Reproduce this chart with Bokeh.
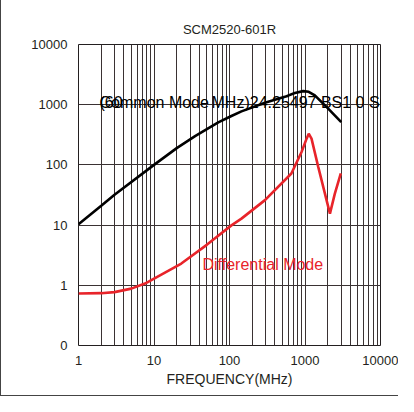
from bokeh.plotting import figure
from bokeh.models import Range1d, FixedTicker, CustomJSTickFormatter, Label
from bokeh.embed import file_html
from bokeh.resources import INLINE

title_text = "SCM2520-601R"
x_label = "FREQUENCY(MHz)"

# Common mode impedance (black)
cm_freq = [1, 2, 3, 10, 20, 35, 71, 106, 144, 295, 540, 733, 946, 1120, 1350, 2000, 3020]
cm_imp = [10.3, 21, 32, 100, 190, 300, 510, 650, 775, 1080, 1350, 1560, 1680, 1640, 1430, 876, 515]

# Differential mode impedance (red)
dm_freq = [1, 2, 3, 5, 7.6, 23, 50, 106, 144, 295, 660, 900, 1050, 1120, 1220, 1500, 2140, 2480, 2980]
dm_imp = [0.73, 0.74, 0.77, 0.88, 1.07, 2.3, 4.7, 9.9, 12.8, 26, 72, 164, 273, 330, 273, 92, 15.5, 33, 72]

x_ticks = [1, 10, 100, 1000, 10000]
y_ticks = [0.1, 1, 10, 100, 1000, 10000]
x_grid = [d * k for d in [1, 10, 100, 1000] for k in range(1, 10)] + [10000]

cm_text = "Common Mode"
cm_text_tail = "MHz)24.25497 BS1 0 SCM2520-601R"
cm_text_overlap = "(60"
dm_text = "Differential Mode"

FONT = "Liberation Sans"
TXT = "#231f20"
RED = "#e8242a"

p = figure(width=398, height=396, x_axis_type="log", y_axis_type="log",
           x_range=Range1d(1, 10000), y_range=Range1d(0.1, 10000),
           output_backend="svg", toolbar_location=None,
           min_border_left=77, min_border_right=19, min_border_top=44, min_border_bottom=51)

p.title.text = title_text
p.title.align = "center"
p.title.text_font = FONT
p.title.text_font_size = "13px"
p.title.text_font_style = "normal"
p.title.text_color = TXT
p.title.standoff = 16

p.outline_line_color = "#231f20"
p.outline_line_width = 1

fmt = CustomJSTickFormatter(code="return tick < 0.5 ? '0' : String(Math.round(tick));")
for ax, ticks in ((p.xaxis, x_ticks), (p.yaxis, y_ticks)):
    ax.ticker = FixedTicker(ticks=ticks)
    ax.formatter = fmt
    ax.axis_line_color = None
    ax.major_tick_line_color = None
    ax.minor_tick_line_color = None
    ax.major_tick_in = 0
    ax.major_tick_out = 0
    ax.major_label_text_font = FONT
    ax.major_label_text_font_size = "13px"
    ax.major_label_text_color = TXT

p.xaxis.major_label_standoff = 10
p.yaxis.major_label_standoff = 11
p.xaxis.axis_label = x_label
p.xaxis.axis_label_text_font = FONT
p.xaxis.axis_label_text_font_size = "14px"
p.xaxis.axis_label_text_font_style = "normal"
p.xaxis.axis_label_text_color = TXT
p.xaxis.axis_label_standoff = 3

p.xgrid.ticker = FixedTicker(ticks=x_grid)
p.ygrid.ticker = FixedTicker(ticks=y_ticks)
p.xgrid.grid_line_color = "#3a3233"
p.ygrid.grid_line_color = "#3a3233"
p.xgrid.grid_line_width = 1
p.ygrid.grid_line_width = 1

p.line(cm_freq, cm_imp, line_color="black", line_width=2.6)
p.line(dm_freq, dm_imp, line_color=RED, line_width=2.6)

lbl = dict(text_font=FONT, text_font_size="16px", text_baseline="middle")
p.add_layout(Label(x=1.9, y=1096, text=cm_text_overlap, text_color="black", **lbl))
p.add_layout(Label(x=1.9, y=1096, text=cm_text, text_color="black", **lbl))
p.add_layout(Label(x=57.8, y=1096, text=cm_text_tail, text_color="black", **lbl))
p.add_layout(Label(x=43.9, y=2.23, text=dm_text, text_color=RED, **lbl))

p.styles = {"border-left": "1px solid #444", "border-bottom": "1px solid #444"}

open("out.html", "w").write(file_html(p, INLINE))
